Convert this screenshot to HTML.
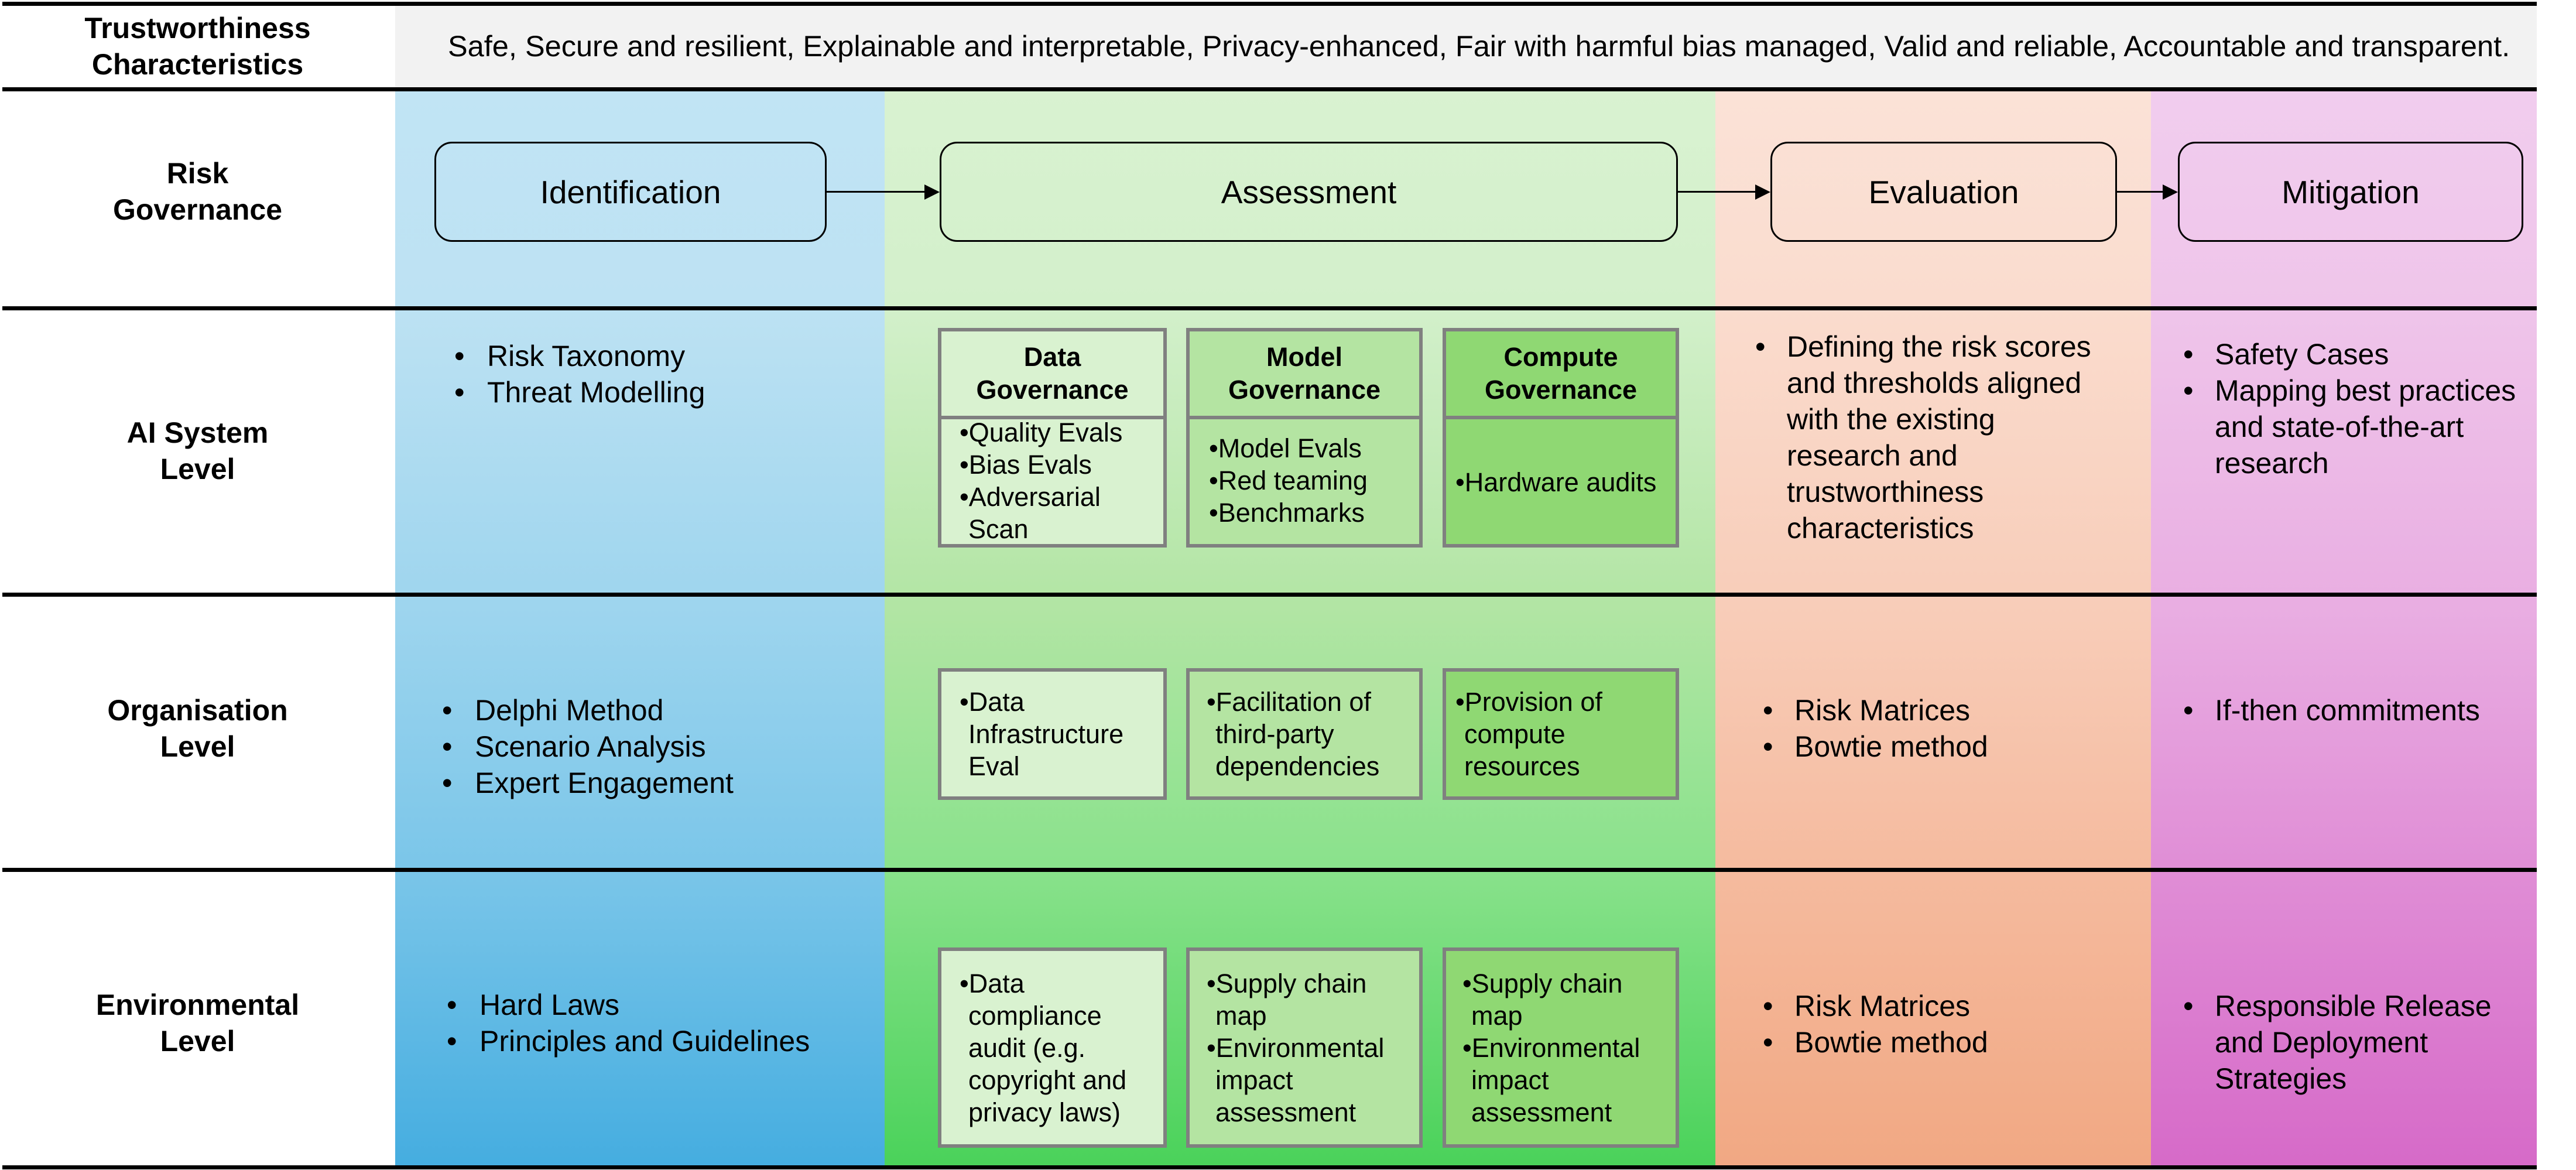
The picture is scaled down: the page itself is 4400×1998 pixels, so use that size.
<!DOCTYPE html>
<html><head><meta charset="utf-8">
<style>
*{margin:0;padding:0;box-sizing:border-box}
html,body{width:4400px;height:1998px;background:#fff;overflow:hidden}
body{position:relative;font-family:"Liberation Sans",Arial,sans-serif;color:#000}
.a{position:absolute}
.col{position:absolute;top:152px;height:1840px}
.line{position:absolute;left:4px;width:4329px;height:7px;background:#000}
.lbl{position:absolute;left:0;width:675px;text-align:center;font-weight:bold;font-size:50px;line-height:62px}
.t{position:absolute;font-size:50px;line-height:62px;white-space:nowrap}
.t div{position:relative}
.t div b{position:absolute;font-weight:normal}
.rg{position:absolute;top:242px;height:171px;border:3px solid #000;border-radius:30px;display:flex;align-items:center;justify-content:center;font-size:55px}
.arr{position:absolute;top:326px;height:3px;background:#000}
.head{position:absolute;top:315px;width:0;height:0;border-top:13px solid transparent;border-bottom:13px solid transparent;border-left:26px solid #000}
.bx{position:absolute;border:6px solid #808080}
.bt{position:absolute;font-size:45px;line-height:55px;white-space:nowrap}
.bt div{padding-left:15px;text-indent:-15px}
.c1{background:#d9f2d0}.c2{background:#b4e4a2}.c3{background:#8fd873}
.hd{font-weight:bold;text-align:center;display:flex;align-items:center;justify-content:center;font-size:45px;line-height:56px}
</style></head><body>

<div class="a" style="left:675px;top:9px;width:3658px;height:141px;background:#f2f2f2"></div>

<div class="col" style="left:675px;width:836px;background:linear-gradient(#c1e4f4 0%,#bde2f3 20%,#9ed5ee 48%,#7bc6e9 72%,#45ade0 100%)"></div>
<div class="col" style="left:1511px;width:1419px;background:linear-gradient(#d9f2d1 0%,#d3f0cb 20%,#b2e5a4 48%,#8ae28c 72%,#4ad25a 100%)"></div>
<div class="col" style="left:2930px;width:744px;background:linear-gradient(#fbe2d7 0%,#fadcce 20%,#f8cdb9 48%,#f5bb9f 72%,#f1a883 100%)"></div>
<div class="col" style="left:3674px;width:659px;background:linear-gradient(#f1cdee 0%,#efc5ea 20%,#e9aee2 48%,#e08ed6 72%,#d66ac8 100%)"></div>

<div class="line" style="top:3px"></div>
<div class="line" style="top:149px"></div>
<div class="line" style="top:523px"></div>
<div class="line" style="top:1012px"></div>
<div class="line" style="top:1482px"></div>
<div class="line" style="top:1990px"></div>

<div class="lbl" style="top:17px">Trustworthiness<br>Characteristics</div>
<div class="t" style="left:765px;top:48px;font-size:50.5px">Safe, Secure and resilient, Explainable and interpretable, Privacy-enhanced, Fair with harmful bias managed, Valid and reliable, Accountable and transparent.</div>
<div class="lbl" style="top:265px">Risk<br>Governance</div>
<div class="lbl" style="top:708px">AI System<br>Level</div>
<div class="lbl" style="top:1182px">Organisation<br>Level</div>
<div class="lbl" style="top:1685px">Environmental<br>Level</div>

<div class="rg" style="left:742px;width:670px">Identification</div>
<div class="rg" style="left:1605px;width:1261px">Assessment</div>
<div class="rg" style="left:3024px;width:592px">Evaluation</div>
<div class="rg" style="left:3720px;width:590px">Mitigation</div>
<div class="arr" style="left:1412px;width:168px"></div><div class="head" style="left:1579px"></div>
<div class="arr" style="left:2866px;width:133px"></div><div class="head" style="left:2998px"></div>
<div class="arr" style="left:3616px;width:79px"></div><div class="head" style="left:3694px"></div>

<div class="t" style="left:832px;top:577px"><div><b style="left:-56px">•</b>Risk Taxonomy</div><div><b style="left:-56px">•</b>Threat Modelling</div></div>
<div class="t" style="left:811px;top:1182px"><div><b style="left:-56px">•</b>Delphi Method</div><div><b style="left:-56px">•</b>Scenario Analysis</div><div><b style="left:-56px">•</b>Expert Engagement</div></div>
<div class="t" style="left:819px;top:1685px"><div><b style="left:-56px">•</b>Hard Laws</div><div><b style="left:-56px">•</b>Principles and Guidelines</div></div>

<div class="t" style="left:3052px;top:561px"><div><b style="left:-54px">•</b>Defining the risk scores<br>and thresholds aligned<br>with the existing<br>research and<br>trustworthiness<br>characteristics</div></div>
<div class="t" style="left:3065px;top:1182px"><div><b style="left:-54px">•</b>Risk Matrices</div><div><b style="left:-54px">•</b>Bowtie method</div></div>
<div class="t" style="left:3065px;top:1687px"><div><b style="left:-54px">•</b>Risk Matrices</div><div><b style="left:-54px">•</b>Bowtie method</div></div>

<div class="t" style="left:3783px;top:574px"><div><b style="left:-54px">•</b>Safety Cases</div><div><b style="left:-54px">•</b>Mapping best practices<br>and state-of-the-art<br>research</div></div>
<div class="t" style="left:3783px;top:1182px"><div><b style="left:-54px">•</b>If-then commitments</div></div>
<div class="t" style="left:3783px;top:1687px"><div><b style="left:-54px">•</b>Responsible Release<br>and Deployment<br>Strategies</div></div>

<div class="bx c1 hd" style="left:1602px;top:560px;width:391px;height:156px">Data<br>Governance</div>
<div class="bx c1" style="left:1602px;top:710px;width:391px;height:225px"></div>
<div class="bx c2 hd" style="left:2026px;top:560px;width:404px;height:156px">Model<br>Governance</div>
<div class="bx c2" style="left:2026px;top:710px;width:404px;height:225px"></div>
<div class="bx c3 hd" style="left:2464px;top:560px;width:404px;height:156px">Compute<br>Governance</div>
<div class="bx c3" style="left:2464px;top:710px;width:404px;height:225px"></div>
<div class="bt" style="left:1639px;top:711px"><div>•Quality Evals</div><div>•Bias Evals</div><div>•Adversarial<br>Scan</div></div>
<div class="bt" style="left:2065px;top:738px"><div>•Model Evals</div><div>•Red teaming</div><div>•Benchmarks</div></div>
<div class="bt" style="left:2486px;top:796px"><div>•Hardware audits</div></div>

<div class="bx c1" style="left:1602px;top:1141px;width:391px;height:225px"></div>
<div class="bx c2" style="left:2026px;top:1141px;width:404px;height:225px"></div>
<div class="bx c3" style="left:2464px;top:1141px;width:404px;height:225px"></div>
<div class="bt" style="left:1639px;top:1171px"><div>•Data<br>Infrastructure<br>Eval</div></div>
<div class="bt" style="left:2061px;top:1171px"><div>•Facilitation of<br>third-party<br>dependencies</div></div>
<div class="bt" style="left:2486px;top:1171px"><div>•Provision of<br>compute<br>resources</div></div>

<div class="bx c1" style="left:1602px;top:1618px;width:391px;height:342px"></div>
<div class="bx c2" style="left:2026px;top:1618px;width:404px;height:342px"></div>
<div class="bx c3" style="left:2464px;top:1618px;width:404px;height:342px"></div>
<div class="bt" style="left:1639px;top:1652px"><div>•Data<br>compliance<br>audit (e.g.<br>copyright and<br>privacy laws)</div></div>
<div class="bt" style="left:2061px;top:1652px"><div>•Supply chain<br>map</div><div>•Environmental<br>impact<br>assessment</div></div>
<div class="bt" style="left:2498px;top:1652px"><div>•Supply chain<br>map</div><div>•Environmental<br>impact<br>assessment</div></div>

</body></html>
